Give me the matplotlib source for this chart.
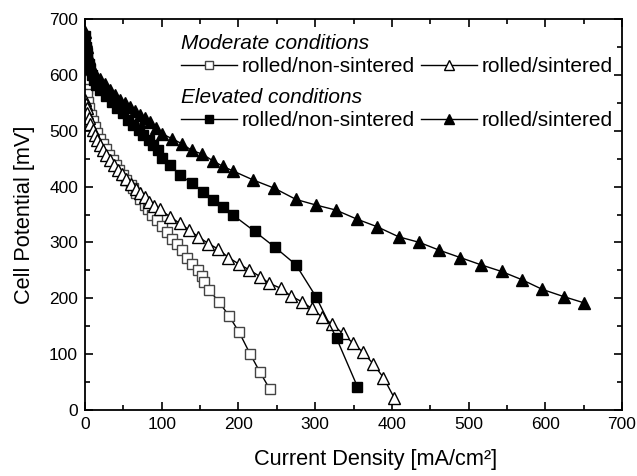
import numpy as np
import matplotlib
matplotlib.use("Agg")
import matplotlib.pyplot as plt
from matplotlib.ticker import MultipleLocator

plt.rcParams.update({
    'font.family': ['Liberation Sans', 'DejaVu Sans'],
    'font.size': 12.5,
    'axes.linewidth': 1.3,
})

# Moderate conditions, rolled/non-sintered (open squares)
mod_ns_x = [0, 1, 2, 3, 4.3, 5.6, 7.8, 10, 13, 16, 19.5, 23, 27, 31.7, 36, 40.4, 44.7, 49, 54,
            59.6, 63, 67, 72, 78, 82.5, 88, 93.4, 100, 106.5, 113, 119.5, 126, 132.5, 139, 147.7,
            153, 155, 161.6, 175, 188, 201, 215, 228, 241]
mod_ns_y = [620, 590, 575, 566, 552, 540, 528, 518, 507, 496, 486, 477, 467, 456, 447, 438, 430, 421, 412,
            403, 397, 388, 377, 367, 359, 349, 340, 329, 319, 307, 297, 286, 273, 261, 251,
            240, 230, 215, 193, 168, 139, 101, 68, 37]

# Moderate conditions, rolled/sintered (open triangles)
mod_s_x = [0, 1, 2, 3, 5, 7, 10, 13, 16, 20, 24, 28, 33, 38, 43, 48, 54, 60, 66, 72, 78, 84, 90,
           97.8, 110.8, 123.8, 136, 147.7, 161, 173.7, 187, 201, 214, 228, 240, 255, 268.5,
           282.5, 295.5, 308.5, 322, 336, 349, 362, 376, 389, 403]
mod_s_y = [555, 548, 540, 532, 522, 512, 502, 492, 484, 474, 465, 456, 447, 438, 430, 422, 413, 404,
           396, 388, 381, 373, 366,
           359, 346, 334, 322, 310, 298, 288, 273, 261, 251, 239, 227, 218, 204,
           194, 182, 167, 154, 137, 120, 104, 82, 58, 22]

# Elevated conditions, rolled/non-sintered (filled squares)
ele_ns_x = [0, 1, 2, 3, 5, 7, 9, 12, 15, 19.5, 27, 34.8, 42, 50, 56, 63, 70, 76, 83, 89, 95, 100,
            111, 124, 139, 154, 167, 180, 193, 221, 248, 275, 301, 328, 355]
ele_ns_y = [670, 650, 640, 630, 620, 610, 600, 590, 582, 573, 562, 552, 541, 531, 520, 510, 501, 492,
            483, 474, 465, 452, 438, 421, 406, 391, 376, 363, 349, 320, 291, 260, 203, 128, 42]

# Elevated conditions, rolled/sintered (filled triangles)
ele_s_x = [0, 1, 2, 3, 5, 7, 9, 12, 15, 19.5, 26, 32.6, 39, 45.6, 52, 58.7, 65, 71.7, 78, 84.7, 92,
           100, 113, 126, 139, 153, 167, 180, 193, 219, 247, 275, 301, 327, 354, 381, 409, 436,
           462, 489, 516, 543, 570, 596, 624, 650]
ele_s_y = [677, 660, 650, 640, 630, 620, 612, 604, 598, 592, 583, 573, 564, 555, 549, 543, 535, 528,
           522, 516, 505, 495, 486, 477, 465, 458, 446, 436, 428, 412, 397, 377, 367, 358, 342,
           328, 310, 300, 286, 273, 260, 248, 233, 216, 203, 192]

fig = plt.figure(figsize=(6.37, 4.76), dpi=100)
ax = fig.add_axes([0.1334, 0.1387, 0.8431, 0.8213])

l1, = ax.plot(mod_ns_x, mod_ns_y, color='black', lw=1, marker='s', ms=6.5,
              mfc='white', mec='#444444', mew=1, label='rolled/non-sintered')
l2, = ax.plot(mod_s_x, mod_s_y, color='black', lw=1, marker='^', ms=8,
              mfc='white', mec='black', mew=1, label='rolled/sintered')
l3, = ax.plot(ele_ns_x, ele_ns_y, color='black', lw=1, marker='s', ms=6.5,
              mfc='black', mec='black', label='rolled/non-sintered')
l4, = ax.plot(ele_s_x, ele_s_y, color='black', lw=1, marker='^', ms=8,
              mfc='black', mec='black', label='rolled/sintered')

ax.set_xlim(0, 700)
ax.set_ylim(0, 700)
ax.xaxis.set_major_locator(MultipleLocator(100))
ax.yaxis.set_major_locator(MultipleLocator(100))
ax.xaxis.set_minor_locator(MultipleLocator(50))
ax.yaxis.set_minor_locator(MultipleLocator(50))
ax.tick_params(which='both', direction='in', top=True, right=True, labelsize=12.5, width=1.2)
ax.tick_params(which='major', length=6, pad=5)
ax.tick_params(which='minor', length=3.5)

ax.set_xlabel('Current Density [mA/cm²]', fontsize=15.7, labelpad=12)
ax.set_ylabel('Cell Potential [mV]', fontsize=15.7, labelpad=10)
ax.xaxis.set_label_coords(0.542, -0.1)

leg_kw = dict(ncol=2, frameon=False, fontsize=15, handlelength=2.7, handletextpad=0.2,
              columnspacing=0.3, alignment='left', borderpad=0, borderaxespad=0,
              labelspacing=0.2, markerscale=0.9)
leg1 = ax.legend([l1, l2], ['rolled/non-sintered', 'rolled/sintered'], title='Moderate conditions',
                 loc='upper right', bbox_to_anchor=(0.982, 0.962), **leg_kw)
leg1.get_title().set_fontstyle('italic')
leg1.get_title().set_fontsize(15)
ax.add_artist(leg1)
leg2 = ax.legend([l3, l4], ['rolled/non-sintered', 'rolled/sintered'], title='Elevated conditions',
                 loc='upper right', bbox_to_anchor=(0.982, 0.824), **leg_kw)
leg2.get_title().set_fontstyle('italic')
leg2.get_title().set_fontsize(15)

fig.savefig('out.png', dpi=100)
